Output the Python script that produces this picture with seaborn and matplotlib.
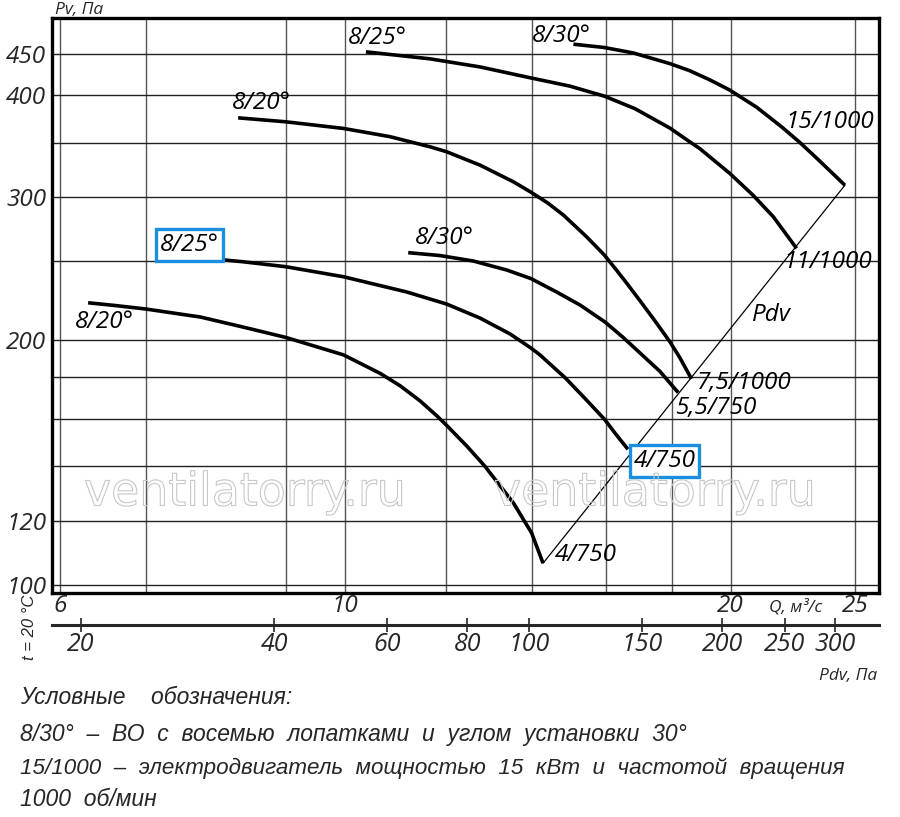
import numpy as np
import pandas as pd
import matplotlib
matplotlib.use("Agg")
import matplotlib.pyplot as plt
import seaborn as sns
from matplotlib import font_manager as fm
from matplotlib import patheffects as pe
from matplotlib.ticker import FixedLocator, FixedFormatter, NullFormatter, NullLocator

# ---------------- data ----------------
# curve 8/20°, motor 4/750
a_q = [6.31, 6.62, 7.00, 7.72, 8.39, 9.00, 9.98, 10.66, 11.05, 11.45, 11.80, 12.00, 12.45, 12.86,
       13.54, 13.99, 14.28]
a_p = [222.4, 220.7, 218.5, 213.6, 207.1, 201.6, 191.9, 182.1, 175.8, 168.5, 161.5, 157.4, 148.3,
       140.1, 126.2, 115.9, 106.4]
# curve 8/25°, motor 4/750
b_q = [7.72, 8.33, 9.00, 9.98, 11.18, 12.01, 12.75, 13.46, 13.97, 14.20, 14.85, 15.35, 15.94,
       16.29, 16.63]
b_p = [252.6, 249.8, 246.3, 239.4, 229.3, 221.6, 213.0, 203.6, 195.7, 191.9, 180.0, 170.5, 160.0,
       153.0, 146.9]
# curve 8/30°, motor 5,5/750
c_q = [11.21, 11.87, 12.60, 13.38, 13.97, 14.63, 15.26, 15.96, 16.49, 16.99, 17.61, 18.20]
c_p = [256.3, 254.2, 250.3, 244.0, 238.2, 229.3, 221.0, 210.6, 201.6, 193.0, 183.2, 172.5]
# curve 8/20°, motor 7,5/1000
d_q = [8.26, 9.00, 9.98, 10.85, 11.66, 12.00, 12.75, 13.54, 13.97, 14.40, 14.81, 15.44, 15.94,
       16.30, 16.60, 16.99, 17.46, 17.93, 18.25, 18.64]
d_p = [375.4, 371.2, 364.3, 355.9, 345.8, 341.2, 328.4, 313.2, 304.2, 295.0, 285.1, 268.1, 254.6,
       243.7, 234.9, 223.8, 211.2, 199.2, 190.5, 179.3]
# curve 8/25°, motor 11/1000
e_q = [10.39, 11.66, 12.75, 13.97, 14.99, 15.94, 16.84, 17.93, 18.58, 18.92, 19.97, 20.82,
       21.59, 22.51]
e_p = [452.5, 443.6, 433.6, 420.3, 410.6, 399.2, 385.3, 364.7, 350.8, 344.1, 320.7, 301.5,
       283.7, 259.4]
# curve 8/30°, motor 15/1000
f_q = [15.08, 15.94, 16.79, 17.93, 18.58, 19.27, 19.97, 20.95, 21.91, 22.64, 23.47, 24.55]
f_p = [462.4, 458.1, 451.1, 437.7, 429.0, 417.9, 406.0, 386.9, 366.0, 350.2, 332.1, 310.2]
# dynamic pressure line
pdv_line_q = [14.28, 24.55]
pdv_line_p = [106.4, 310.2]

curve_names = ["8/20 4/750", "8/25 4/750", "8/30 5.5/750", "8/20 7.5/1000",
               "8/25 11/1000", "8/30 15/1000"]

# labels on the chart
label_text = ["8/20°", "8/30°", "8/20°", "8/25°", "8/30°", "15/1000", "11/1000",
              "Pdv", "7,5/1000", "5,5/750", "4/750"]
label_q = [6.16, 11.35, 8.17, 10.06, 14.0, 22.05, 21.98, 20.78, 18.83, 18.11, 14.59]
label_p = [210.5, 267.1, 391.0, 470.0, 472.8, 370.6, 249.6, 214.9, 177.2, 165.1, 108.9]
boxed_text = ["8/25°", "4/750"]
boxed_q = [7.18, 16.80]
boxed_p = [261.9, 142.1]

# axes ticks
q_major = [6, 10, 20, 25]
q_major_labels = ["6", "10", "20", "25"]
q_minor = [7, 9, 12, 14, 16, 18]
p_major = [100, 120, 200, 300, 400, 450]
p_major_labels = ["100", "120", "200", "300", "400", "450"]
p_minor = [140, 160, 180, 250, 350]
pdv_ticks = [20, 40, 60, 80, 100, 150, 200, 250, 300]
pdv_tick_labels = ["20", "40", "60", "80", "100", "150", "200", "250", "300"]
PDV_COEF = 0.515  # Pdv = coef * Q^2

legend_lines = [
    "Условные    обозначения:",
    "8/30°  –  ВО  с  восемью  лопатками  и  углом  установки  30°",
    "15/1000  –  электродвигатель  мощностью  15  кВт  и  частотой  вращения",
    "1000  об/мин",
]
legend_sizes = [16.5, 16.5, 16.1, 16.5]

# ---------------- style ----------------
sns.set_theme(style="white")
plt.rcParams["font.family"] = ["Open Sans", "DejaVu Sans"]
plt.rcParams["font.style"] = "italic"
avail = {f.name for f in fm.fontManager.ttflist}
narrow = "Liberation Sans Narrow" if "Liberation Sans Narrow" in avail else "Liberation Sans"

W, H = 900, 817
fig = plt.figure(figsize=(W / 100, H / 100), dpi=100, facecolor="white")
ax = fig.add_axes([52 / W, 1 - 593 / H, 827 / W, 575 / H])
ax.set_xscale("log")
ax.set_yscale("log")
ax.set_xlim(5.914, 26.1)
ax.set_ylim(97.8, 498)

frames = []
for name, q, p in zip(curve_names, [a_q, b_q, c_q, d_q, e_q, f_q],
                      [a_p, b_p, c_p, d_p, e_p, f_p]):
    frames.append(pd.DataFrame({"Q": q, "P": p, "curve": name}))
df = pd.concat(frames, ignore_index=True)

sns.lineplot(data=df, x="Q", y="P", units="curve", estimator=None, sort=False,
             color="black", linewidth=2.6, ax=ax, legend=False,
             solid_capstyle="butt", solid_joinstyle="round")
sns.lineplot(x=pdv_line_q, y=pdv_line_p, color="black", linewidth=0.9, ax=ax,
             legend=False)

# ticks / grid
ax.xaxis.set_major_locator(FixedLocator(q_major))
ax.xaxis.set_major_formatter(FixedFormatter(q_major_labels))
ax.xaxis.set_minor_locator(FixedLocator(q_minor))
ax.xaxis.set_minor_formatter(NullFormatter())
ax.yaxis.set_major_locator(FixedLocator(p_major))
ax.yaxis.set_major_formatter(FixedFormatter(p_major_labels))
ax.yaxis.set_minor_locator(FixedLocator(p_minor))
ax.yaxis.set_minor_formatter(NullFormatter())
ax.set_axisbelow(True)
ax.grid(True, which="both", axis="x", color="#555555", linewidth=1.0)
ax.grid(True, which="both", axis="y", color="#222222", linewidth=1.0)
ax.tick_params(which="both", length=0)
ax.tick_params(axis="x", labelsize=17.5, pad=1)
ax.tick_params(axis="y", labelsize=17.5, pad=4)
for s in ax.spines.values():
    s.set_visible(True)
    s.set_color("black")
    s.set_linewidth(2.4)
ax.set_xlabel("")
ax.set_ylabel("")

# secondary Pdv axis
sec = ax.secondary_xaxis(-32 / 575,
                         functions=(lambda q: PDV_COEF * np.asarray(q) ** 2,
                                    lambda p: np.sqrt(np.maximum(np.asarray(p), 1e-9) / PDV_COEF)))
sec.set_xticks(pdv_ticks)
sec.set_xticklabels(pdv_tick_labels)
sec.xaxis.set_minor_locator(NullLocator())
sec.spines["bottom"].set_linewidth(2.2)
sec.tick_params(direction="inout", length=10, width=1.2, labelsize=18, pad=0)

# curve labels
for t, q, p in zip(label_text, label_q, label_p):
    ax.text(q, p, t, ha="left", va="center", fontsize=17.5, color="black")
for t, q, p in zip(boxed_text, boxed_q, boxed_p):
    ax.text(q, p, t, ha="left", va="center", fontsize=17.5, color="black",
            bbox=dict(boxstyle="square,pad=0.16", fc="white", ec="#1b8fdf", lw=2.4))

# watermark
for xc in (245, 655):
    fig.text(xc / W, 1 - 493 / H, "ventilatorry.ru", ha="center", va="center",
             fontsize=33, family="DejaVu Sans", style="normal", color="none",
             path_effects=[pe.Stroke(linewidth=0.8, foreground="#c8c8c8")])

# axis captions
fig.text(55 / W, 1 - 10 / H, "Pv, Па", ha="left", va="center", fontsize=12.5)
fig.text(796 / W, 1 - 607 / H, "Q, м³/с", ha="center", va="center", fontsize=12.5)
fig.text(877 / W, 1 - 676 / H, "Pdv, Па", ha="right", va="center", fontsize=12.5)
fig.text(29 / W, 1 - 627 / H, "t = 20 °C", ha="center", va="center", fontsize=12,
         rotation=90, family=narrow)

# legend
for t, yc, fs in zip(legend_lines, [697, 735, 768, 800], legend_sizes):
    fig.text(20 / W, 1 - yc / H, t, ha="left", va="center", fontsize=fs,
             family=[narrow, "DejaVu Sans"])

fig.savefig("out.png", dpi=100, facecolor="white")
